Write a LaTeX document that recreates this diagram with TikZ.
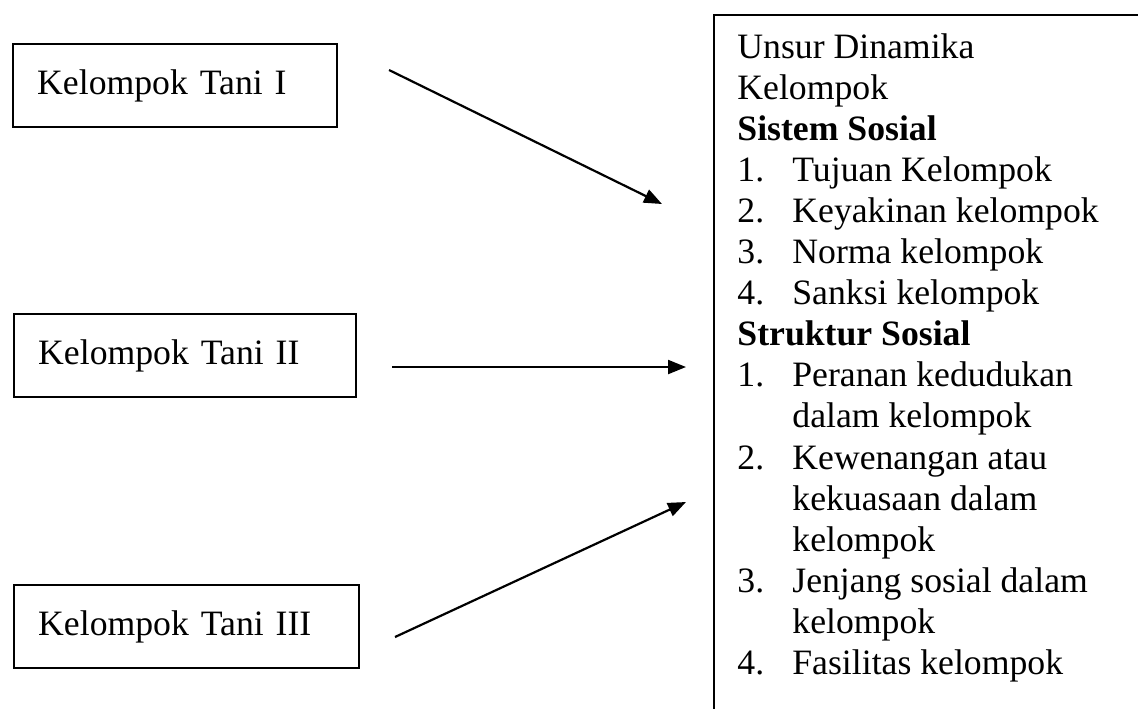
\documentclass[tikz,border=0pt]{standalone}
\usepackage{fontspec}
\setmainfont{Liberation Serif}
\usetikzlibrary{arrows.meta}
\newcommand\itm[2]{\makebox[27.5pt][l]{#1}#2}
\tikzset{
  x={(0.5pt,0)}, y={(0,-0.5pt)},
  txt/.style={font=\fontsize{17.85pt}{20pt}\selectfont, inner sep=0pt},
  tanibox/.style={draw, line width=1.2pt, anchor=north west, minimum height=41.5pt,
    inner xsep=12pt, inner ysep=0pt, align=left, font=\fontsize{17.85pt}{20pt}\selectfont},
  arr/.style={line width=1.1pt, -{Triangle[length=9pt,width=7pt]}},
}
\begin{document}
\begin{tikzpicture}
\useasboundingbox (0,0) rectangle (1138,708);
\clip (0,0) rectangle (1138,708);
\fill[white] (0,0) rectangle (1138,708);

% left boxes
\node[tanibox, minimum width=162pt, text width=138pt] (b1) at (12,43) {Kelompok Tani I};
\node[tanibox, minimum width=171pt, text width=147pt] (b2) at (13,313) {Kelompok Tani II};
\node[tanibox, minimum width=172.5pt, text width=148.5pt] (b3) at (13,584) {Kelompok Tani III};

% big box (cropped at right and bottom)
\node[draw, line width=1.2pt, anchor=north west, minimum width=230pt, minimum height=360pt, inner sep=0pt] (ub) at (713,14) {};

% text lines
\foreach \t [count=\i] in {
  {Unsur Dinamika},
  {Kelompok},
  {\textbf{Sistem Sosial}},
  {\itm{1.}{Tujuan Kelompok}},
  {\itm{2.}{Keyakinan kelompok}},
  {\itm{3.}{Norma kelompok}},
  {\itm{4.}{Sanksi kelompok}},
  {\textbf{Struktur Sosial}},
  {\itm{1.}{Peranan kedudukan}},
  {\itm{}{dalam kelompok}},
  {\itm{2.}{Kewenangan atau}},
  {\itm{}{kekuasaan dalam}},
  {\itm{}{kelompok}},
  {\itm{3.}{Jenjang sosial dalam}},
  {\itm{}{kelompok}},
  {\itm{4.}{Fasilitas kelompok}}}
  \node[txt, anchor=base west] (t\i) at (737, {58+41.1*(\i-1)}) {\t};

% arrows
\coordinate (s1) at (389,70);
\coordinate (e1) at (662,204);
\coordinate (s2) at (392,367);
\coordinate (e2) at (686,367);
\coordinate (s3) at (395,637);
\coordinate (e3) at (686,502);
\draw[arr] (s1) -- (e1);
\draw[arr] (s2) -- (e2);
\draw[arr] (s3) -- (e3);
\end{tikzpicture}
\end{document}
